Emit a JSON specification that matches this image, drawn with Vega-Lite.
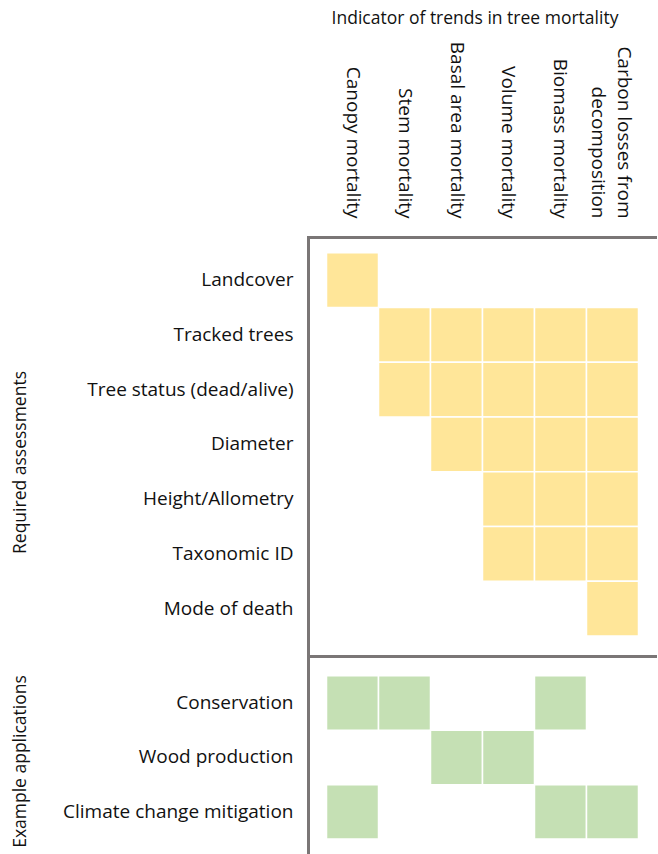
{
  "$schema": "https://vega.github.io/schema/vega-lite/v6.json",
  "padding": {"left": 11, "top": 9, "right": 0, "bottom": 0},
  "spacing": 0,
  "config": {
    "view": {"stroke": null},
    "font": "Open Sans",
    "axis": {
      "labelFont": "Open Sans", "titleFont": "Open Sans",
      "labelFontSize": 19, "titleFontSize": 17.5, "titleFontWeight": "normal",
      "labelColor": "#111111", "titleColor": "#111111",
      "domainColor": "#7a7676", "domainWidth": 3, "domainCap": "square",
      "ticks": false, "grid": false
    }
  },
  "datasets": {
    "cells": [
      {"panel": "Required assessments", "row": "Landcover", "indicator": "Canopy mortality"},
      {"panel": "Required assessments", "row": "Tracked trees", "indicator": "Stem mortality"},
      {"panel": "Required assessments", "row": "Tracked trees", "indicator": "Basal area mortality"},
      {"panel": "Required assessments", "row": "Tracked trees", "indicator": "Volume mortality"},
      {"panel": "Required assessments", "row": "Tracked trees", "indicator": "Biomass mortality"},
      {"panel": "Required assessments", "row": "Tracked trees", "indicator": "Carbon losses from decomposition"},
      {"panel": "Required assessments", "row": "Tree status (dead/alive)", "indicator": "Stem mortality"},
      {"panel": "Required assessments", "row": "Tree status (dead/alive)", "indicator": "Basal area mortality"},
      {"panel": "Required assessments", "row": "Tree status (dead/alive)", "indicator": "Volume mortality"},
      {"panel": "Required assessments", "row": "Tree status (dead/alive)", "indicator": "Biomass mortality"},
      {"panel": "Required assessments", "row": "Tree status (dead/alive)", "indicator": "Carbon losses from decomposition"},
      {"panel": "Required assessments", "row": "Diameter", "indicator": "Basal area mortality"},
      {"panel": "Required assessments", "row": "Diameter", "indicator": "Volume mortality"},
      {"panel": "Required assessments", "row": "Diameter", "indicator": "Biomass mortality"},
      {"panel": "Required assessments", "row": "Diameter", "indicator": "Carbon losses from decomposition"},
      {"panel": "Required assessments", "row": "Height/Allometry", "indicator": "Volume mortality"},
      {"panel": "Required assessments", "row": "Height/Allometry", "indicator": "Biomass mortality"},
      {"panel": "Required assessments", "row": "Height/Allometry", "indicator": "Carbon losses from decomposition"},
      {"panel": "Required assessments", "row": "Taxonomic ID", "indicator": "Volume mortality"},
      {"panel": "Required assessments", "row": "Taxonomic ID", "indicator": "Biomass mortality"},
      {"panel": "Required assessments", "row": "Taxonomic ID", "indicator": "Carbon losses from decomposition"},
      {"panel": "Required assessments", "row": "Mode of death", "indicator": "Carbon losses from decomposition"},
      {"panel": "Example applications", "row": "Conservation", "indicator": "Canopy mortality"},
      {"panel": "Example applications", "row": "Conservation", "indicator": "Stem mortality"},
      {"panel": "Example applications", "row": "Conservation", "indicator": "Biomass mortality"},
      {"panel": "Example applications", "row": "Wood production", "indicator": "Basal area mortality"},
      {"panel": "Example applications", "row": "Wood production", "indicator": "Volume mortality"},
      {"panel": "Example applications", "row": "Climate change mitigation", "indicator": "Canopy mortality"},
      {"panel": "Example applications", "row": "Climate change mitigation", "indicator": "Biomass mortality"},
      {"panel": "Example applications", "row": "Climate change mitigation", "indicator": "Carbon losses from decomposition"}
    ]
  },
  "vconcat": [
    {
      "width": 349,
      "height": 419,
      "data": {"name": "cells"},
      "transform": [{"filter": "datum.panel == 'Required assessments'"}],
      "mark": {"type": "rect", "stroke": "white", "strokeWidth": 1.5},
      "encoding": {
        "x": {
          "field": "indicator", "type": "nominal",
          "scale": {
            "domain": ["Canopy mortality", "Stem mortality", "Basal area mortality", "Volume mortality", "Biomass mortality", "Carbon losses from decomposition"],
            "paddingInner": 0, "paddingOuter": 0.356
          },
          "axis": {
            "orient": "top",
            "title": "Indicator of trends in tree mortality",
            "labelAngle": 90, "labelAlign": "right", "labelBaseline": "middle",
            "labelPadding": 19, "labelLineHeight": 26, "labelLimit": 300,
            "labelOffset": {"condition": {"test": "datum.value == 'Carbon losses from decomposition'", "value": 12}, "value": 0},
            "labelExpr": "datum.value == 'Carbon losses from decomposition' ? ['Carbon losses from', 'decomposition'] : datum.value",
            "titleX": 166.5, "titleY": -214, "titleBaseline": "alphabetic", "titleAlign": "center"
          }
        },
        "y": {
          "field": "row", "type": "nominal",
          "scale": {
            "domain": ["Landcover", "Tracked trees", "Tree status (dead/alive)", "Diameter", "Height/Allometry", "Taxonomic ID", "Mode of death"],
            "paddingInner": 0, "paddingOuter": 0.325, "align": 0.44
          },
          "axis": {
            "title": "Required assessments",
            "labelPadding": 15, "labelLimit": 300,
            "titleAngle": -90, "titleX": -282.5, "titleY": 225, "titleBaseline": "alphabetic", "titleAlign": "center"
          }
        },
        "color": {
          "field": "panel", "type": "nominal",
          "scale": {"domain": ["Required assessments", "Example applications"], "range": ["#FFE699", "#C5E0B4"]},
          "legend": null
        }
      }
    },
    {
      "width": 349,
      "height": 198,
      "data": {"name": "cells"},
      "transform": [{"filter": "datum.panel == 'Example applications'"}],
      "mark": {"type": "rect", "stroke": "white", "strokeWidth": 1.5},
      "encoding": {
        "x": {
          "field": "indicator", "type": "nominal",
          "scale": {
            "domain": ["Canopy mortality", "Stem mortality", "Basal area mortality", "Volume mortality", "Biomass mortality", "Carbon losses from decomposition"],
            "paddingInner": 0, "paddingOuter": 0.356
          },
          "axis": {"orient": "top", "title": null, "labels": false}
        },
        "y": {
          "field": "row", "type": "nominal",
          "scale": {
            "domain": ["Conservation", "Wood production", "Climate change mitigation"],
            "paddingInner": 0, "paddingOuter": 0.32, "align": 0.57
          },
          "axis": {
            "title": "Example applications",
            "labelPadding": 15, "labelLimit": 300,
            "titleAngle": -90, "titleX": -282.5, "titleY": 105, "titleBaseline": "alphabetic", "titleAlign": "center"
          }
        },
        "color": {
          "field": "panel", "type": "nominal",
          "scale": {"domain": ["Required assessments", "Example applications"], "range": ["#FFE699", "#C5E0B4"]},
          "legend": null
        }
      }
    }
  ]
}
